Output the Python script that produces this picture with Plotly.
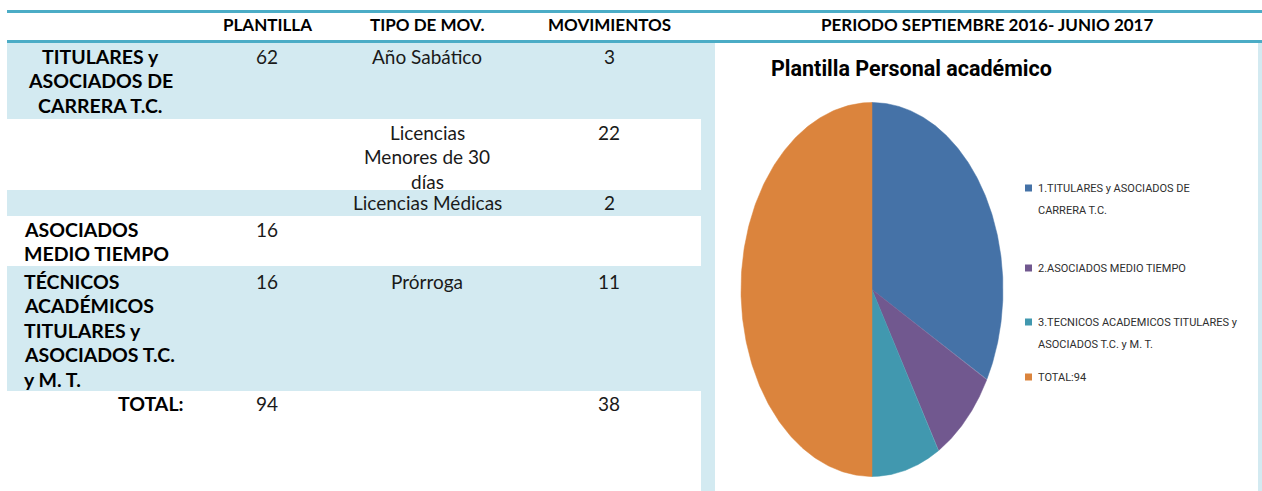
import numpy as np
import plotly.graph_objects as go

# ---------------- data ----------------
header_labels = ["PLANTILLA", "TIPO DE MOV.", "MOVIMIENTOS", "PERIODO SEPTIEMBRE 2016- JUNIO 2017"]
categories = ["TITULARES y<br>ASOCIADOS DE<br>CARRERA T.C.",
              "ASOCIADOS<br>MEDIO TIEMPO",
              "TÉCNICOS<br>ACADÉMICOS<br>TITULARES y<br>ASOCIADOS T.C.<br>y M. T."]
plantilla = [62, 16, 16]
tipos_mov = ["Año Sabático", "Licencias<br>Menores de 30<br>días", "Licencias Médicas", "Prórroga"]
movimientos = [3, 22, 2, 11]
total_label = "TOTAL:"
total_plantilla = 94
total_movimientos = 38

pie_title = "Plantilla Personal académico"
pie_labels = ["1.TITULARES y ASOCIADOS DE<br>CARRERA T.C.",
              "2.ASOCIADOS MEDIO TIEMPO",
              "3.TECNICOS ACADEMICOS TITULARES y<br>ASOCIADOS T.C. y M. T.",
              "TOTAL:94"]
pie_values = [62, 16, 16, 94]
pie_colors = ["#4572A7", "#71588F", "#4198AF", "#DB843D"]

# ---------------- style ----------------
W, H = 1262, 491
BAND = "#D3EAF1"
LINE = "#4BACC6"
FONT = "Lato, 'Open Sans', sans-serif"
TFONT = "Roboto, sans-serif"
LH = 24.5

fig = go.Figure()

# ---- elliptical pie computed from the values ----
cx, cy, a, b = 872, 289.5, 131, 187
vals = np.array(pie_values, dtype=float)
frac = np.cumsum(np.concatenate([[0], vals])) / vals.sum()
for i, (lab, col) in enumerate(zip(pie_labels, pie_colors)):
    th = np.linspace(frac[i], frac[i + 1], 200) * 2 * np.pi
    xs = np.concatenate([[cx], cx + a * np.sin(th), [cx]])
    ys = np.concatenate([[cy], cy - b * np.cos(th), [cy]])
    fig.add_trace(go.Scatter(x=xs, y=ys, fill="toself", fillcolor=col, mode="lines",
                             line=dict(color=col, width=0.5), name=lab.replace("<br>", " "),
                             showlegend=False, hoverinfo="name"))

shapes = []
# chart cell background and panel
shapes.append(dict(type="rect", xref="x", yref="y", x0=701, x1=W, y0=43, y1=H,
                   fillcolor=BAND, line_width=0, layer="below"))
shapes.append(dict(type="rect", xref="x", yref="y", x0=715, x1=1258, y0=43, y1=H,
                   fillcolor="white", line_width=0, layer="below"))
# shaded rows
for y0, y1 in [(43, 119), (190, 216), (266, 391)]:
    shapes.append(dict(type="rect", xref="x", yref="y", x0=7, x1=715, y0=y0, y1=y1,
                       fillcolor=BAND, line_width=0, layer="below"))
# header rules
for yy in [11.5, 41.5]:
    shapes.append(dict(type="line", xref="x", yref="y", x0=7, x1=W, y0=yy, y1=yy,
                       line=dict(color=LINE, width=3)))

ann = []


def put(text, x, y, xanchor="center", bold=False, size=19, color="#1a1a1a", family=FONT, lh=LH):
    for k, line in enumerate(str(text).split("<br>")):
        t = f"<b>{line}</b>" if bold else line
        ann.append(dict(text=t, x=x, y=y + k * lh, xref="x", yref="y", xanchor=xanchor,
                        yanchor="middle", showarrow=False,
                        font=dict(family=family, size=size, color=color)))


# header
hx = [267, 427, 609, 987]
for lab, x in zip(header_labels, hx):
    put(lab, x, 24, bold=True, size=17, color="black")

# column 1
put(categories[0], 100, 56, bold=True, size=19.5, color="black")
put(categories[1], 22, 229, xanchor="left", bold=True, size=19.5, color="black")
put(categories[2], 22, 281, xanchor="left", bold=True, size=19.5, color="black")
put(total_label, 186, 403, xanchor="right", bold=True, size=19.5, color="black")

# plantilla
for v, y in zip(plantilla, [56, 229, 281]):
    put(v, 267, y)
put(total_plantilla, 267, 403)

# tipo de movimiento / movimientos
for t, m, y in zip(tipos_mov, movimientos, [56, 132, 202, 281]):
    put(t, 427, y)
    put(m, 609, y)
put(total_movimientos, 609, 403)

# pie title
ann.append(dict(text=f"<b>{pie_title}</b>", x=769, y=68, xref="x", yref="y",
                xanchor="left", yanchor="middle", showarrow=False,
                font=dict(family=TFONT, size=21.5, color="black")))

# legend (square swatch + text lines)
leg_y = [188, 268, 322, 377]
for lab, col, y in zip(pie_labels, pie_colors, leg_y):
    shapes.append(dict(type="rect", xref="x", yref="y", x0=1025, x1=1032, y0=y - 3.5, y1=y + 3.5,
                       fillcolor=col, line_width=0))
    put(lab, 1036, y, xanchor="left", size=11, color="#2e2e2e", family=TFONT, lh=22)

fig.update_layout(
    width=W, height=H, autosize=False,
    margin=dict(l=0, r=0, t=0, b=0),
    paper_bgcolor="white", plot_bgcolor="white",
    xaxis=dict(range=[0, W], visible=False, fixedrange=True),
    yaxis=dict(range=[H, 0], visible=False, fixedrange=True),
    shapes=shapes, annotations=ann,
    showlegend=False,
)

fig.write_html("out.html", config={"displayModeBar": False},
               post_script="document.body.style.margin='0';document.body.style.overflow='hidden';")
